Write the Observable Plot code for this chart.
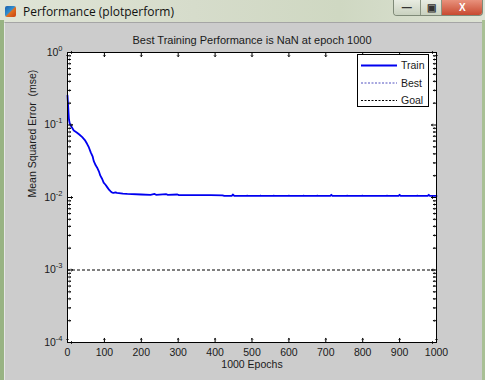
<!DOCTYPE html>
<html><head><meta charset="utf-8">
<script src="https://cdn.jsdelivr.net/npm/d3@7"></script>
<script src="https://cdn.jsdelivr.net/npm/@observablehq/plot@0.6"></script>
<style>
body{margin:0;background:#fff;}
#win{position:relative;width:485px;height:380px;overflow:hidden;background:linear-gradient(90deg,#dfe4d6,#d6dccb 40%,#cfd8c2 70%,#dde2d4);font-family:"Liberation Sans",Arial,sans-serif;}
#lb{position:absolute;left:0;top:20px;width:4px;height:360px;background:#98b383;}
#rb{position:absolute;left:482px;top:20px;width:3px;height:360px;background:#a9c095;}
#client{position:absolute;left:4px;top:22px;width:477px;height:358px;background:#cccccc;border-left:1px solid #e6e6e6;border-top:1px solid #a5a5a5;}
#wtitle{position:absolute;left:23px;top:3px;font-family:"Open Sans","Liberation Sans",sans-serif;font-size:12px;color:#111;}
#icon{position:absolute;left:5px;top:6px;width:11px;height:11px;background:linear-gradient(135deg,#1d5ea8 0%,#2f8fd0 45%,#e07020 55%,#c84010 100%);border-radius:2px;}
#btns{position:absolute;left:393px;top:0;width:88px;height:15px;border:1px solid #7f8a78;border-top:none;border-radius:0 0 4px 4px;overflow:hidden;display:flex;}
#btns div{height:15px;display:flex;align-items:center;justify-content:center;font-size:10px;font-weight:bold;}
#bmin{width:26px;background:linear-gradient(#e8ece2,#c9d1bf);border-right:1px solid #8a9482;color:#333;}
#bmax{width:21px;background:linear-gradient(#e8ece2,#c9d1bf);border-right:1px solid #8a9482;color:#333;}
#bcls{width:40px;background:linear-gradient(#e8917c,#c84a30);color:#fff;}
#plot{position:absolute;left:0;top:0;}
#plot svg{background:transparent !important;}
#legend{position:absolute;left:357px;top:54px;width:72px;height:53px;background:#fff;border:1px solid #000;box-sizing:border-box;}
</style>
</head><body>
<div id="win">
  <div id="lb"></div><div id="rb"></div>
  <div id="client"></div>
  <div id="icon"></div>
  <div id="wtitle">Performance (plotperform)</div>
  <div id="btns"><div id="bmin">&#8212;</div><div id="bmax">&#9635;</div><div id="bcls">X</div></div>
  <div id="plot"></div>
  <div id="legend"></div>
</div>
<script>
// ---- data ----
const chartTitle = "Best Training Performance is NaN at epoch 1000";
const xLabel = "1000 Epochs";
const yLabel = "Mean Squared Error  (mse)";
const seriesNames = ["Train", "Best", "Goal"];
const goalValue = 1e-3;
const bestValue = NaN;
const xTicks = [0,100,200,300,400,500,600,700,800,900,1000];
const yTicks = [1e-4,1e-3,1e-2,1e-1,1];
const epochs = [0,1,2,3,4,6,10,17,25,32,40,47,53,58,63,68,71,76,80,85,89,94,98,103,108,113,117,121,125,130,134,150,162,200,225,236,240,268,272,298,302,388,420,425,445,448,452,485,487,489,521,523,525,557,559,561,598,600,602,638,640,642,675,677,679,712,715,718,756,758,760,797,799,801,864,866,868,897,900,903,946,948,950,976,979,982,1000];
const trainPerf = [0.255,0.212,0.176,0.142,0.119,0.105,0.096,0.084,0.079,0.074,0.068,0.062,0.055,0.049,0.042,0.037,0.032,0.028,0.026,0.023,0.020,0.018,0.016,0.015,0.0138,0.0127,0.0121,0.0117,0.0116,0.0118,0.0116,0.0113,0.0112,0.0110,0.0109,0.0112,0.0109,0.0111,0.0109,0.0110,0.0108,0.0108,0.0107,0.0105,0.0105,0.0110,0.0105,0.0105,0.0106,0.0105,0.0105,0.0106,0.0105,0.0105,0.0106,0.0105,0.0105,0.0106,0.0105,0.0105,0.0106,0.0105,0.0105,0.0106,0.0105,0.0105,0.0109,0.0105,0.0105,0.0106,0.0105,0.0105,0.0106,0.0105,0.0105,0.0106,0.0105,0.0105,0.0109,0.0105,0.0105,0.0106,0.0105,0.0105,0.0109,0.0105,0.0105];

const train = epochs.map((e, i) => ({epoch: e, perf: trainPerf[i]}));
const yMinor = [];
for (let p = -4; p < 0; p++) for (let k = 2; k <= 9; k++) yMinor.push(k * Math.pow(10, p));

const font = "Liberation Sans, Arial, sans-serif";
const tick = {stroke: "black", strokeWidth: 1, anchor: "start"};
const plot = Plot.plot({
  width: 485, height: 380,
  marginLeft: 67, marginRight: 49, marginTop: 52, marginBottom: 38,
  style: {background: "transparent", fontFamily: font, fontSize: "10.5px", color: "#1a1a1a", overflow: "visible"},
  x: {domain: [0, 1000]},
  y: {type: "log", domain: [1e-4, 1]},
  marks: [
    Plot.frame({fill: "white", stroke: "none"}),
    Plot.ruleY([goalValue], {stroke: "black", strokeWidth: 1, strokeDasharray: "3,2"}),
    Plot.line(train, {x: "epoch", y: "perf", stroke: "#0000f0", strokeWidth: 1.8}),
    // inward ticks
    Plot.vector(xTicks, {...tick, x: d => d, frameAnchor: "bottom", rotate: 0, length: 4}),
    Plot.vector(xTicks, {...tick, x: d => d, frameAnchor: "top", rotate: 180, length: 4}),
    Plot.vector(yTicks, {...tick, y: d => d, frameAnchor: "left", rotate: 90, length: 5}),
    Plot.vector(yTicks, {...tick, y: d => d, frameAnchor: "right", rotate: -90, length: 5}),
    Plot.vector(yMinor, {...tick, y: d => d, frameAnchor: "left", rotate: 90, length: 3}),
    Plot.vector(yMinor, {...tick, y: d => d, frameAnchor: "right", rotate: -90, length: 3}),
    Plot.frame({stroke: "black", strokeWidth: 1}),
    Plot.axisX(xTicks, {anchor: "bottom", tickSize: 0, tickPadding: 6, label: null, tickFormat: d => String(d)}),
    Plot.axisY(yTicks, {anchor: "left", tickSize: 0, tickPadding: 5, label: null, tickFormat: d => String(Math.round(Math.log10(d)))}),
    Plot.text([chartTitle], {frameAnchor: "top", dy: -16, fontSize: 11, fill: "#1a1a1a"}),
    Plot.text([xLabel], {frameAnchor: "bottom", dy: 25, fontSize: 10.5, fill: "#1a1a1a"}),
    Plot.text([yLabel], {frameAnchor: "left", dx: -35, rotate: -90, fontSize: 10.5, fill: "#1a1a1a"})
  ]
});
document.getElementById("plot").appendChild(plot);

// superscript exponents for log tick labels
const ns = "http://www.w3.org/2000/svg";
plot.querySelectorAll('g[aria-label="y-axis tick label"] text').forEach(t => {
  const ex = t.textContent;
  if (ex === "") return;
  t.textContent = "10";
  const ts = document.createElementNS(ns, "tspan");
  ts.setAttribute("dy", "-5");
  ts.setAttribute("font-size", "7.5");
  ts.textContent = ex;
  t.appendChild(ts);
});
plot.querySelectorAll("text").forEach(t => t.style.whiteSpace = "pre");

// legend
const lg = d3.select("#legend").append("svg").attr("width", 72).attr("height", 53)
  .style("font-family", font).style("font-size", "10.5px");
const legendStyles = [
  {stroke: "#0000f0", width: 2, dash: null},
  {stroke: "#5050c0", width: 1, dash: "2,1.5"},
  {stroke: "#000", width: 1, dash: "2,1.5"}
];
seriesNames.forEach((n, i) => {
  const y = 10.5 + i * 17.5;
  const s = legendStyles[i];
  lg.append("line").attr("x1", 3).attr("x2", 39).attr("y1", y).attr("y2", y)
    .attr("stroke", s.stroke).attr("stroke-width", s.width).attr("stroke-dasharray", s.dash);
  lg.append("text").attr("x", 43).attr("y", y).attr("dy", "0.35em").attr("fill", "#1a1a1a").text(n);
});
</script>
</body></html>
